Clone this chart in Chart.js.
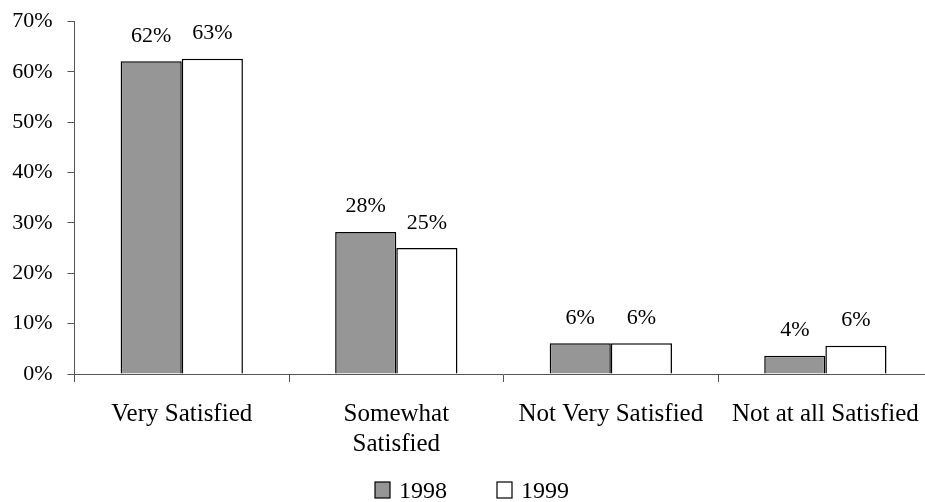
<!DOCTYPE html>
<html>
<head>
<meta charset="utf-8">
<script src="https://cdn.jsdelivr.net/npm/chart.js@4.4.1/dist/chart.umd.min.js"></script>
<style>
    html, body { margin: 0; padding: 0; background: #fff; overflow: hidden; }
    canvas { display: block; }
</style>
</head>
<body>
<canvas id="myChart" width="936" height="502"></canvas>
<script>
// satisfaction survey, share of respondents per answer
var categories = ['Very Satisfied', ['Somewhat', 'Satisfied'], 'Not Very Satisfied', 'Not at all Satisfied'];
var years = ['1998', '1999'];
var values1998 = [62.1, 28.2, 6.1, 3.6];
var values1999 = [62.6, 25.0, 6.1, 5.6];
var yMax = 70;
var yStep = 10;

var serif = "'Liberation Serif', 'Times New Roman', serif";

// percentage printed above every bar
var valueLabels = {
    id: 'valueLabels',
    afterDatasetsDraw: function (chart) {
        var ctx = chart.ctx;
        ctx.save();
        ctx.font = '22px ' + serif;
        ctx.fillStyle = '#000';
        ctx.textAlign = 'center';
        ctx.textBaseline = 'alphabetic';
        chart.data.datasets.forEach(function (ds, i) {
            chart.getDatasetMeta(i).data.forEach(function (bar, j) {
                ctx.fillText(Math.round(ds.data[j]) + '%', bar.x, bar.y - 19.5);
            });
        });
        ctx.restore();
    }
};

// legend row under the axis labels
var boxLegend = {
    id: 'boxLegend',
    afterDraw: function (chart) {
        var ctx = chart.ctx;
        var box = 15, gap = 9, spacing = 50;
        ctx.save();
        ctx.font = '24px ' + serif;
        var widths = chart.data.datasets.map(function (ds) {
            return box + gap + ctx.measureText(ds.label).width;
        });
        var total = widths.reduce(function (a, b) { return a + b; }, 0) + spacing * (widths.length - 1);
        var x = 472 - total / 2;
        var y = 490;
        chart.data.datasets.forEach(function (ds, i) {
            ctx.fillStyle = ds.backgroundColor;
            ctx.fillRect(x, y - 8, box, box + 1);
            ctx.strokeStyle = '#000';
            ctx.lineWidth = 1.2;
            ctx.strokeRect(x, y - 8, box, box + 1);
            ctx.fillStyle = '#000';
            ctx.textAlign = 'left';
            ctx.textBaseline = 'alphabetic';
            ctx.fillText(ds.label, x + box + gap, y + 8);
            x += widths[i] + spacing;
        });
        ctx.restore();
    }
};

var barChartData = {
    labels: categories,
    datasets: [
        {
            label: years[0],
            data: values1998,
            backgroundColor: '#969696',
            borderColor: '#000',
            borderWidth: 1.5
        },
        {
            label: years[1],
            data: values1999,
            backgroundColor: '#ffffff',
            borderColor: '#000',
            borderWidth: 1.5
        }
    ]
};

var ctx = document.getElementById('myChart');
window.myBar = new Chart(ctx, {
    type: 'bar',
    data: barChartData,
    plugins: [valueLabels, boxLegend],
    options: {
        responsive: false,
        animation: false,
        devicePixelRatio: 1,
        layout: { padding: { top: 21.5, right: 2, bottom: 38, left: 0 } },
        datasets: {
            bar: { categoryPercentage: 0.57, barPercentage: 1.0 }
        },
        plugins: {
            legend: { display: false },
            tooltip: { enabled: false }
        },
        scales: {
            x: {
                afterFit: function (scale) { scale.height = 90; },
                grid: {
                    offset: true,
                    drawOnChartArea: false,
                    drawTicks: true,
                    tickLength: 8,
                    color: '#555'
                },
                border: { display: true, color: '#555', width: 1 },
                ticks: {
                    color: '#000',
                    font: { family: serif, size: 25, lineHeight: 1.2 },
                    padding: 17,
                    maxRotation: 0,
                    autoSkip: false
                }
            },
            y: {
                min: 0,
                max: yMax,
                afterFit: function (scale) {
                    scale.width = 74.5;
                    scale.paddingTop = 0;
                    scale.paddingBottom = 0;
                },
                grid: {
                    drawOnChartArea: false,
                    drawTicks: true,
                    tickLength: 7,
                    color: '#555'
                },
                border: { display: true, color: '#555', width: 1 },
                ticks: {
                    stepSize: yStep,
                    color: '#000',
                    padding: 15,
                    font: { family: serif, size: 22 },
                    callback: function (v) { return v + '%'; }
                }
            }
        }
    }
});
</script>
</body>
</html>
